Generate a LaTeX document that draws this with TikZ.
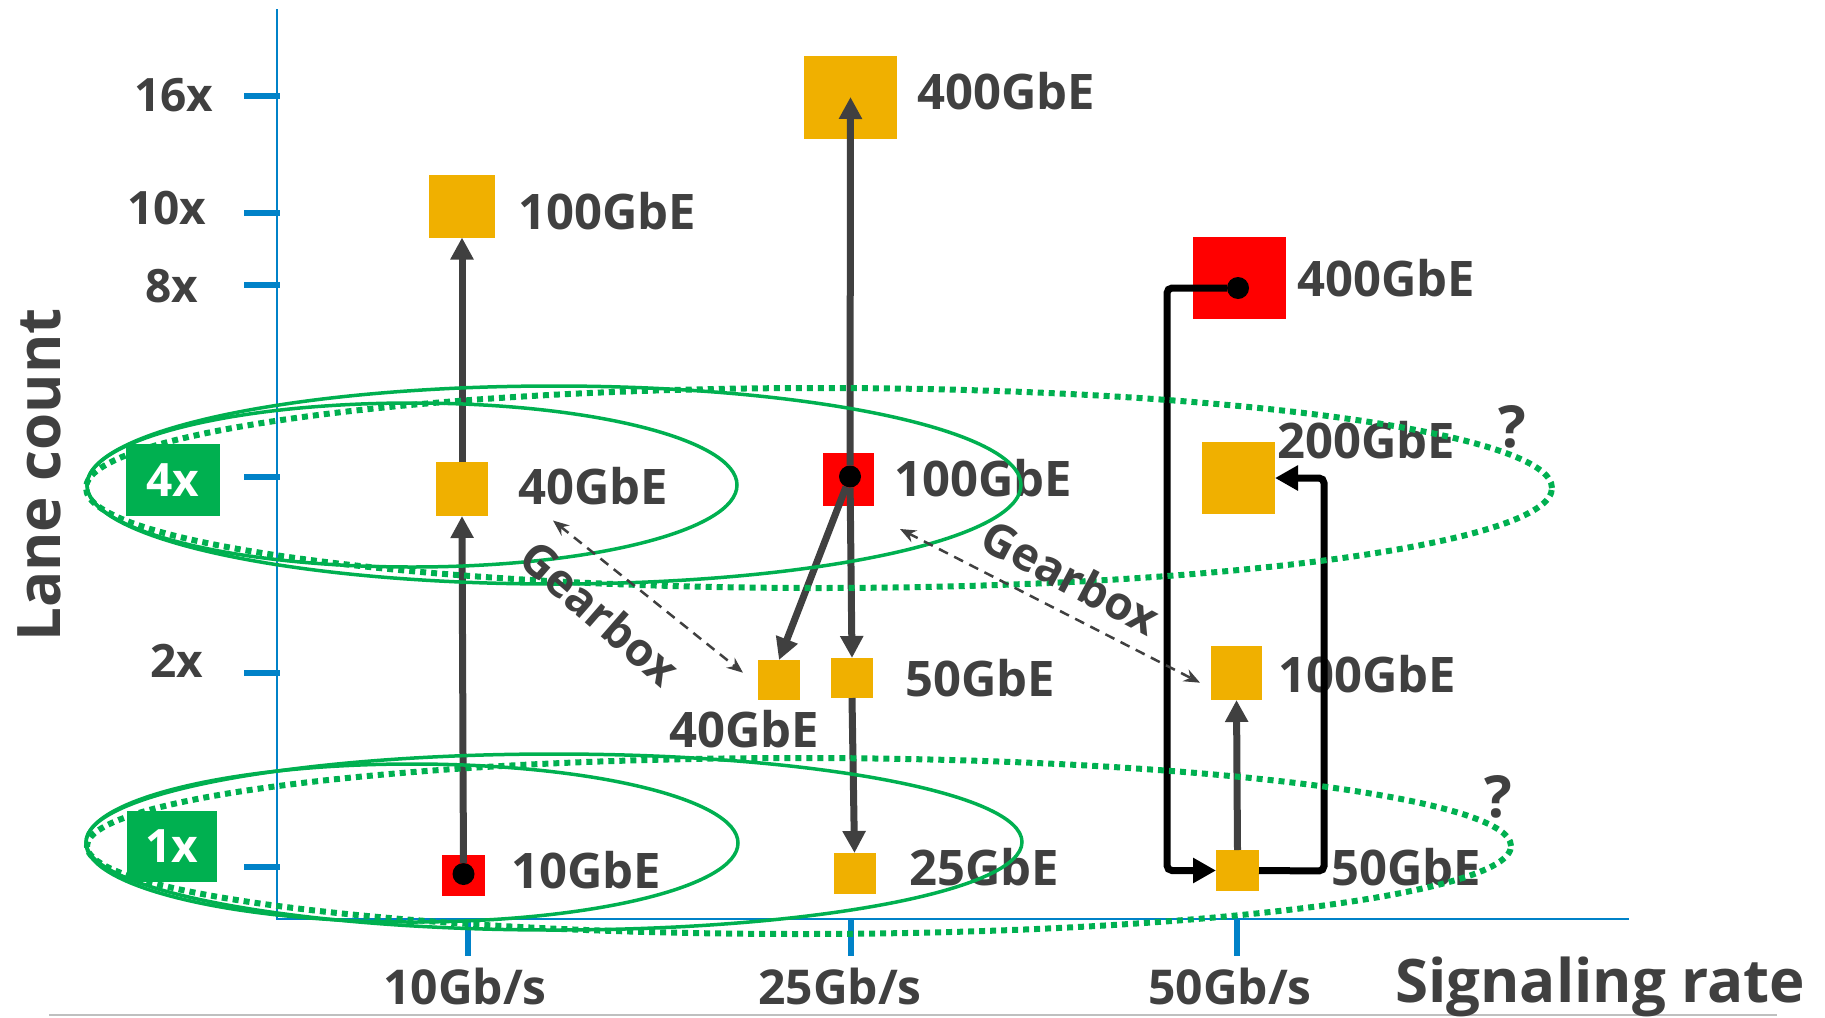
\documentclass[tikz,border=0pt]{standalone}
\usepackage{fontspec}
\setmainfont{Open Sans}
\usetikzlibrary{arrows.meta}
\definecolor{gold}{RGB}{240,176,0}
\definecolor{dgreen}{RGB}{0,176,80}
\definecolor{axisblue}{RGB}{0,130,200}
\definecolor{txt}{RGB}{64,64,64}
\definecolor{lgray}{RGB}{191,191,191}
\begin{document}
\begin{tikzpicture}[x=1pt,y=-1pt,
  sq/.style={fill=#1,draw=none,inner sep=0pt,outer sep=0pt},
  dot/.style={circle,fill=black,minimum size=22pt,inner sep=0pt,outer sep=0pt},
  lbl/.style={anchor=base west,inner sep=0pt,text=txt,font=\fontsize{49}{55}\selectfont\bfseries},
  ylbl/.style={anchor=base west,inner sep=0pt,text=txt,font=\fontsize{46}{52}\selectfont\bfseries},
  xlbl/.style={anchor=base west,inner sep=0pt,text=txt,font=\fontsize{48}{54}\selectfont\bfseries},
  ttl/.style={inner sep=0pt,text=txt,font=\fontsize{60}{66}\selectfont\bfseries},
  gbx/.style={inner sep=0pt,text=txt,font=\fontsize{46}{52}\selectfont\bfseries},
  gbox/.style={fill=dgreen,text=white,inner sep=0pt,font=\fontsize{46}{52}\selectfont\bfseries},
  garr/.style={draw=txt,line width=7pt,-{Triangle[length=22pt,width=22pt]}},
  barr/.style={draw=black,line width=7pt,rounded corners=5pt,-{Triangle[length=23pt,width=24pt]}},
  gear/.style={draw=txt,line width=2.5pt,dash pattern=on 10pt off 7pt,
     {Stealth[length=16pt,width=13pt]}-{Stealth[length=16pt,width=13pt]}},
  solell/.style={draw=dgreen,line width=3.5pt},
  dotell/.style={draw=dgreen,line width=6pt,dash pattern=on 6pt off 5pt},
  axl/.style={draw=axisblue,line width=2pt},
  tick/.style={draw=axisblue,line width=6pt}
]
\useasboundingbox (0,0) rectangle (1825,1017);

% axes
\coordinate (ytop) at (277,9);
\coordinate (orig) at (277,919);
\coordinate (xend) at (1629,919);
\draw[axl] (ytop) -- (orig) -- (xend);
\foreach \yy in {96,212.5,284.5,476.5,672.8,867} \draw[tick] (244,\yy) -- (280,\yy);
\foreach \xx in {468,851,1237} \draw[tick] (\xx,919) -- (\xx,956);
\draw[lgray,line width=2.5pt] (49,1015) -- (1777,1015);

% axis labels
\node[ylbl] (l16) at (134,111) {16x};
\node[ylbl] (l10) at (127,224) {10x};
\node[ylbl] (l8) at (145,302) {8x};
\node[ylbl] (l2) at (150,677) {2x};
\node[xlbl] (x10) at (383,1004) {10Gb/s};
\node[xlbl] (x25) at (758,1004) {25Gb/s};
\node[xlbl] (x50) at (1148,1004) {50Gb/s};
\node[ttl,anchor=base west] (sr) at (1395,1002) {Signaling rate};
\node[ttl,anchor=base,rotate=90] (lc) at (60,475) {Lane count};

% boxes
\node[sq=gold,minimum width=66pt,minimum height=63pt] (a100) at (462,206) {};
\node[sq=gold,minimum width=52pt,minimum height=54pt] (a40) at (462,489) {};
\node[sq=red,minimum width=43pt,minimum height=41pt] (a10) at (463.5,875) {};
\node[sq=gold,minimum width=93pt,minimum height=83pt] (b400) at (850.5,97) {};
\node[sq=red,minimum width=51pt,minimum height=53pt] (b100) at (848.5,479) {};
\node[sq=gold,minimum width=42pt,minimum height=40pt] (b40) at (779,680) {};
\node[sq=gold,minimum width=42pt,minimum height=40pt] (b50) at (852,678) {};
\node[sq=gold,minimum width=42pt,minimum height=41pt] (b25) at (854.5,873.5) {};
\node[sq=red,minimum width=93pt,minimum height=82pt] (c400) at (1239.5,278) {};
\node[sq=gold,minimum width=73pt,minimum height=72pt] (c200) at (1238.5,478) {};
\node[sq=gold,minimum width=51pt,minimum height=54pt] (c100) at (1236.5,673) {};
\node[sq=gold,minimum width=43pt,minimum height=41pt] (c50) at (1237.5,870.5) {};

% dots
\node[dot] (a10d) at (463.5,874) {};
\node[dot] (b100d) at (850,476.5) {};
\node[dot] (c400d) at (1238,288) {};

% labels
\node[lbl] (ta100) at (518,229) {100GbE};
\node[lbl] (ta40) at (518,504) {40GbE};
\node[lbl] (ta10) at (511,888) {10GbE};
\node[lbl] (tb400) at (917,109) {400GbE};
\node[lbl] (tb100) at (894,496) {100GbE};
\node[lbl] (tb40) at (669,747) {40GbE};
\node[lbl] (tb50) at (905,696) {50GbE};
\node[lbl] (tb25) at (909,885) {25GbE};
\node[lbl] (tc400) at (1297,296) {400GbE};
\node[lbl] (tc200) at (1277,458) {200GbE};
\node[lbl] (tc100) at (1278,692) {100GbE};
\node[lbl] (tc50) at (1331,885) {50GbE};
\node[lbl,font=\fontsize{58}{62}\selectfont\bfseries] (q1) at (1498,447) {?};
\node[lbl,font=\fontsize{58}{62}\selectfont\bfseries] (q2) at (1484,817) {?};

% gray arrows
\draw[garr] (a10d) -- (a40.south);
\draw[garr] (a40.north) -- (a100.south);
\draw[garr] (b100d) -- (b400.center);
\draw[garr] (b100d) -- (b40.north);
\draw[garr] (b100d) -- (b50.north);
\draw[garr] (b50.south) -- (b25.north);
\draw[garr] (c50.north) -- (c100.south);

% black arrows
\coordinate (cL) at (1167,288);
\coordinate (cR) at (1324,871);
\draw[barr] (c400d) -- (cL) |- (c50.west);
\draw[barr] (c50.east) -- (cR) |- (c200.east);

% ellipses
\draw[solell] (412,485) ellipse [x radius=325pt,y radius=82pt];
\draw[solell] (554,485) ellipse [x radius=467pt,y radius=99pt];
\draw[dotell] (819,488) ellipse [x radius=733pt,y radius=100pt];
\draw[solell] (412,843) ellipse [x radius=326pt,y radius=79pt];
\draw[solell] (554,842) ellipse [x radius=468pt,y radius=88pt];
\draw[dotell] (799,846) ellipse [x radius=712pt,y radius=88pt];

% gearbox
\coordinate (g1s) at (553,520.5);
\coordinate (g1e) at (743,672.7);
\coordinate (g2s) at (900,529);
\coordinate (g2e) at (1200,682.7);
\draw[gear] (g1s) -- (g1e);
\draw[gear] (g2s) -- (g2e);
\node[gbx,rotate=-41] (gb1) at (600,613) {Gearbox};
\node[gbx,rotate=-28] (gb2) at (1071,577) {Gearbox};

% green boxes
\node[gbox,minimum width=94pt,minimum height=72pt] (g4) at (173,480) {4x};
\node[gbox,minimum width=90pt,minimum height=71pt] (g1) at (172,846) {1x};
\end{tikzpicture}
\end{document}
